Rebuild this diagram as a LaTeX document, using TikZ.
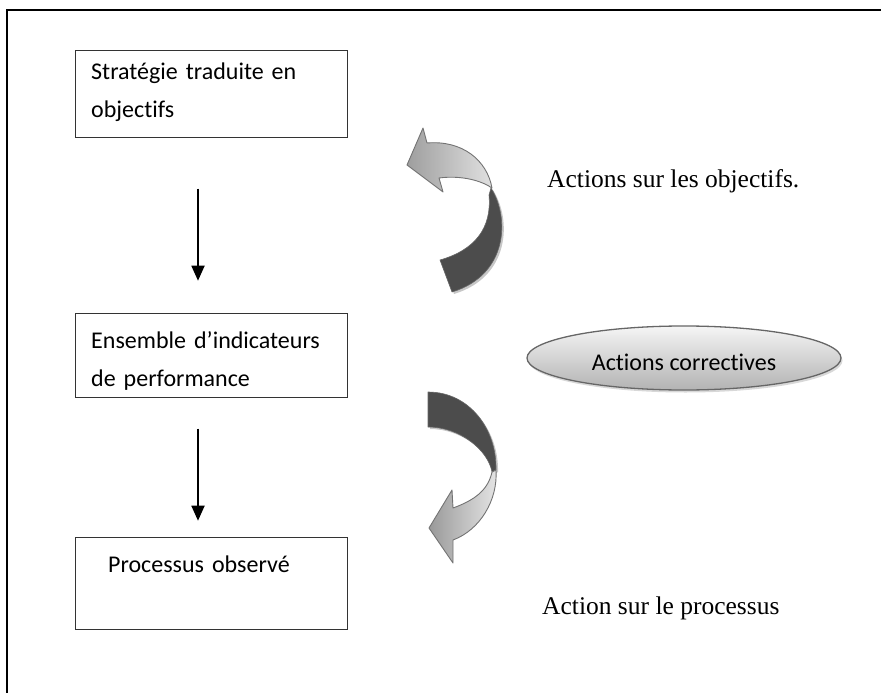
\documentclass[tikz,border=0pt]{standalone}
\usepackage{fontspec}
\setmainfont{Liberation Serif}
\newfontfamily\boxfont{Carlito}[Ligatures=NoCommon]
\usetikzlibrary{arrows.meta,shapes.geometric,shadows}

\begin{document}
\begin{tikzpicture}[x=1pt,y=-1pt,
  stepbox/.style={draw=black!80, line width=1.4pt, minimum width=272pt,
    anchor=north west, inner sep=0pt},
  boxtext/.style={font=\boxfont\fontsize{24}{38}\selectfont, anchor=base west,
    inner sep=0pt, text width=250pt},
  flowarrow/.style={line width=1.8pt, -{Triangle[width=13pt,length=15pt]}},
  sidelabel/.style={font=\fontsize{25.5}{30}\selectfont, anchor=base west, inner sep=0pt},
  ribbonlight/.style={draw=black!55, line width=0.9pt, line join=round},
  ribbondark/.style={fill=black!70, draw=black!60, line width=0.6pt, line join=round},
  ribbonshadow/.style={fill=black!22},
]
\useasboundingbox (0,0) rectangle (881,693);

% page frame (top and left rules)
\draw[line width=2pt] (7,693) -- (7,10) -- (881,10);

% the three stages
\node[stepbox, minimum height=87pt] (strat) at (75,50) {};
\node[boxtext] (stratlbl) at (91,80) {Stratégie traduite en\\objectifs};
\node[stepbox, minimum height=84pt] (indic) at (75,313) {};
\node[boxtext] (indiclbl) at (91,348) {Ensemble d’indicateurs\\de performance};
\node[stepbox, minimum height=92pt] (proc) at (75,537) {};
\node[boxtext] (proclbl) at (108,572) {Processus observé};

% downward flow
\draw[flowarrow, shorten <=50.3pt, shorten >=32.3pt]
  ([xshift=-13.7pt]strat.south) -- ([xshift=-13.7pt]indic.north);
\draw[flowarrow, shorten <=30.3pt, shorten >=16.3pt]
  ([xshift=-13.7pt]indic.south) -- ([xshift=-13.7pt]proc.north);

% corrective actions
\node[ellipse, draw=black!60, line width=1.3pt, minimum width=314pt, minimum height=64pt,
  top color=black!4, bottom color=black!30,
  drop shadow={shadow xshift=1.5pt, shadow yshift=-2.5pt, fill=black!30},
  font=\boxfont\fontsize{24}{28}\selectfont, text height=24pt, text depth=0pt]
  (corr) at (684,358) {Actions correctives};

% upper curved arrow (back to the objectives)
\fill[ribbonshadow, xshift=2pt, yshift=-2pt]
  (491,188) .. controls (510,218) and (508,275) .. (452,292) -- (440,260)
  .. controls (475,250) and (492,228) .. (489,195) -- cycle;
\path[ribbondark]
  (491,188) .. controls (510,218) and (508,275) .. (452,292) -- (440,260)
  .. controls (475,250) and (492,228) .. (489,195) -- cycle;
\path[ribbonlight, left color=black!38, right color=black!12]
  (407,165) -- (423,128) -- (427,143) .. controls (462,140) and (487,160) .. (492,188)
  .. controls (482,181) and (462,175) .. (439,178) -- (443,192) -- cycle;

% lower curved arrow (down to the process)
\fill[ribbonshadow, xshift=2pt, yshift=-2pt]
  (428,392) .. controls (470,392) and (497,430) .. (496,470) -- (492,472)
  .. controls (488,450) and (460,427) .. (428,427) -- cycle;
\path[ribbondark]
  (428,392) .. controls (470,392) and (497,430) .. (496,470) -- (492,472)
  .. controls (488,450) and (460,427) .. (428,427) -- cycle;
\path[ribbonlight, left color=black!40, right color=black!10]
  (496,470) .. controls (498,500) and (480,530) .. (453,540) -- (453,563) -- (429,528)
  -- (452,490) -- (453,508) .. controls (475,500) and (488,490) .. (492,472) -- cycle;

% side captions
\node[sidelabel] (objlbl) at (547,187) {Actions sur les objectifs.};
\node[sidelabel] (proclbl2) at (542,614) {Action sur le processus};
\end{tikzpicture}
\end{document}
